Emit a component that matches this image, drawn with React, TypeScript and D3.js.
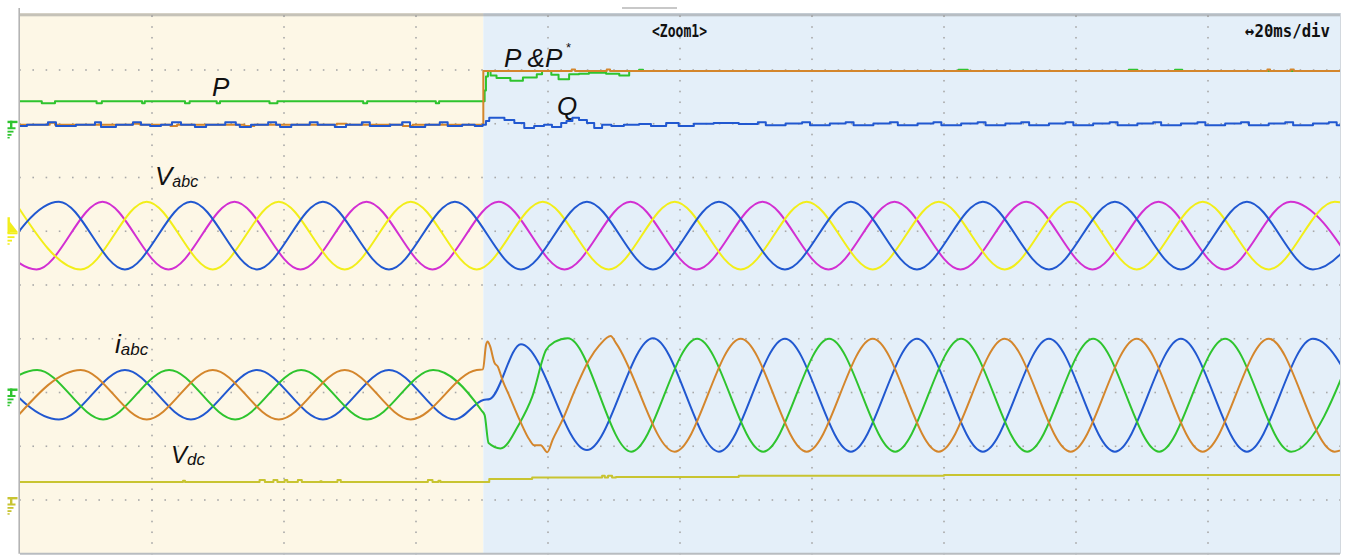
import React from "react";
import * as d3 from "d3";

type Pt = [number, number];

// scope settings: 20 ms/div over 10 div, 10 vertical div, values in div
const timeSpan = [0, 200];
const divSpan = [-5, 5];
const stepTime = 70.2;

// channel ground levels (div from centre)
const pqGround = 3;
const vabcGround = 1;
const iabcGround = -2;
const vdcGround = -4;

// grid voltage, extrema [ms, div]
const vaBlue: Pt[] = [[-4.1,-0.71],[5.9,0.55],[15.9,-0.71],[25.9,0.55],[35.9,-0.71],[45.9,0.55],[55.9,-0.71],[65.9,0.55],[75.9,-0.71],[85.9,0.55],[95.9,-0.71],[105.9,0.55],[115.9,-0.71],[125.9,0.55],[135.9,-0.71],[145.9,0.55],[155.9,-0.71],[165.9,0.55],[175.9,-0.71],[185.9,0.55],[195.9,-0.71],[205.9,0.55]];
const vaYellow: Pt[] = [[-0.8,0.55],[9.2,-0.71],[19.2,0.55],[29.2,-0.71],[39.2,0.55],[49.2,-0.71],[59.2,0.55],[69.2,-0.71],[79.2,0.55],[89.2,-0.71],[99.2,0.55],[109.2,-0.71],[119.2,0.55],[129.2,-0.71],[139.2,0.55],[149.2,-0.71],[159.2,0.55],[169.2,-0.71],[179.2,0.55],[189.2,-0.71],[199.2,0.55],[209.2,-0.71]];
const vaMagenta: Pt[] = [[-7.5,0.55],[2.5,-0.71],[12.5,0.55],[22.5,-0.71],[32.5,0.55],[42.5,-0.71],[52.5,0.55],[62.5,-0.71],[72.5,0.55],[82.5,-0.71],[92.5,0.55],[102.5,-0.71],[112.5,0.55],[122.5,-0.71],[132.5,0.55],[142.5,-0.71],[152.5,0.55],[162.5,-0.71],[172.5,0.55],[182.5,-0.71],[192.5,0.55],[202.5,-0.71]];

// phase currents
const iBlue: Pt[] = [[-4.1,0.42],[5.9,-0.5],[15.9,0.42],[25.9,-0.5],[35.9,0.42],[45.9,-0.5],[55.9,0.42],[65.9,-0.5],[70.2,-0.14],[71.2,-0.12],[75.9,0.9],[85.9,-1.07],[95.9,1.01],[105.9,-1.1],[115.9,1.0],[125.9,-1.1],[135.9,1.0],[145.9,-1.1],[155.9,1.0],[165.9,-1.1],[175.9,1.0],[185.9,-1.1],[195.9,1.0],[205.9,-1.1]];
const iGreen: Pt[] = [[-7.4,-0.5],[2.6,0.42],[12.6,-0.5],[22.6,0.42],[32.6,-0.5],[42.6,0.42],[52.6,-0.5],[62.6,0.42],[69.9,-0.33],[70.4,-0.42],[71.0,-0.94],[72.8,-1.04],[75.7,-0.57],[77.6,-0.08],[79.7,0.79],[81.0,0.94],[83.0,1.01],[92.6,-1.1],[102.6,1.0],[112.6,-1.1],[122.6,1.0],[132.6,-1.1],[142.6,1.0],[152.6,-1.1],[162.6,1.0],[172.6,-1.1],[182.6,1.0],[192.6,-1.1],[202.6,1.0]];
const iOrange: Pt[] = [[-0.8,-0.5],[9.2,0.42],[19.2,-0.5],[29.2,0.42],[39.2,-0.5],[49.2,0.42],[59.2,-0.5],[69.2,0.42],[70.15,0.43],[70.6,0.88],[70.85,0.95],[71.2,0.87],[71.9,0.55],[72.4,0.48],[73.1,0.23],[74.2,-0.08],[75.7,-0.51],[77.2,-0.88],[77.9,-0.98],[78.9,-0.98],[79.9,-1.11],[80.7,-0.88],[82.2,-0.51],[84.3,0.11],[86.2,0.6],[87.8,0.88],[89.5,1.05],[90.3,0.92],[99.2,-1.1],[109.2,1.0],[119.2,-1.1],[129.2,1.0],[139.2,-1.1],[149.2,1.0],[159.2,-1.1],[169.2,1.0],[179.2,-1.1],[189.2,1.0],[199.2,-1.1],[209.2,1.0]];

// active power, reference and reactive power (stepped samples)
const pMeas: Pt[] = [[0,0.42],[3.3,0.38],[5.3,0.42],[11.6,0.38],[12.4,0.42],[18.5,0.38],[18.9,0.42],[25.0,0.38],[25.7,0.42],[29.8,0.38],[30.3,0.42],[37.8,0.38],[39.0,0.42],[52.0,0.38],[52.6,0.42],[63.0,0.38],[63.5,0.42],[70.4,0.62],[70.6,0.88],[70.9,0.98],[71.3,0.9],[72.2,0.85],[74.3,0.8],[76.2,0.86],[78.3,0.92],[79.1,0.98],[80.5,0.91],[81.6,0.83],[83.2,0.92],[84.7,0.93],[86.2,0.95],[88.8,0.93],[90.8,0.9],[92.3,0.98],[93.8,1.005],[94.4,0.98],[142.2,1.005],[143.6,0.98],[168.0,1.005],[169.3,0.98],[175.0,1.005],[176.1,0.98],[200,0.98]];
const pRef: Pt[] = [[0,-0.02],[4.5,0.02],[5.3,-0.02],[17.0,0.0],[18.2,-0.02],[22.8,-0.04],[23.8,-0.02],[34.0,-0.04],[35.5,-0.02],[48,0.0],[49.5,-0.02],[58,-0.04],[59.5,-0.02],[70.2,0.98],[83.6,1.01],[84.1,0.98],[88.9,1.01],[89.4,0.98],[189.0,1.01],[189.4,0.98],[192.5,1.01],[193.0,0.98],[200,0.98]];
const qMeas: Pt[] = [[0,-0.04],[1.06,-0.02],[4.24,0.03],[5.45,-0.04],[8.48,-0.02],[11.36,0.03],[12.27,-0.06],[14.54,-0.02],[17.12,0.03],[18.33,-0.02],[19.7,-0.04],[21.36,-0.02],[23.03,0.03],[24.39,-0.02],[26.5,-0.06],[28.2,-0.02],[31.1,0.03],[32.7,-0.02],[33.3,-0.06],[35.0,-0.02],[37.6,0.03],[38.8,-0.02],[39.4,-0.06],[41.1,-0.02],[43.9,0.03],[45.1,-0.02],[47.7,-0.06],[49.4,-0.02],[51.8,0.03],[53.0,-0.04],[56.1,-0.02],[57.9,0.03],[59.1,-0.06],[61.4,-0.02],[63.6,0.03],[64.8,-0.04],[67.0,-0.02],[68.9,-0.04],
  [70.1,-0.02],[70.6,0.05],[71.1,0.11],[72.6,0.11],[73.4,0.07],[74.9,0.015],[76.4,-0.08],[77.9,-0.04],[79.4,-0.02],[80.6,-0.06],[82.0,0.015],[82.8,0.05],[83.7,0.11],[84.7,0.07],[85.9,0.015],[87.0,-0.08],[88.2,-0.02],[89.6,-0.04],[91.5,-0.02],[93.8,-0.005],[95.6,-0.04],[97.9,0.015],[99.8,-0.04],[102.1,0.0],[105.1,0.015],[108.9,-0.005],
  [111.8,0.03],[113.0,-0.03],[116.0,0.005],[118.5,0.03],[119.7,-0.03],[122.7,0.005],[125.1,0.03],[126.3,-0.03],[129.3,0.005],[131.8,0.03],[133.0,-0.03],[136.0,0.005],[138.4,0.03],[139.6,-0.03],[142.6,0.005],[145.1,0.03],[146.3,-0.03],[149.3,0.005],[151.7,0.03],[152.9,-0.03],[155.9,0.005],[158.4,0.03],[159.6,-0.03],[162.6,0.005],[165.1,0.03],[166.3,-0.03],[169.3,0.005],[171.7,0.03],[172.9,-0.03],[175.9,0.005],[178.4,0.03],[179.6,-0.03],[182.6,0.005],[185.0,0.03],[186.2,-0.03],[189.2,0.005],[191.7,0.03],[192.9,-0.03],[195.9,0.005],[198.3,0.03],[199.5,-0.03],[200,-0.03]];

// dc-link voltage
const vdc: Pt[] = [[0,0.335],[24.7,0.36],[25.0,0.335],[36.3,0.37],[37.1,0.335],[38.4,0.37],[39.0,0.335],[40.1,0.37],[40.5,0.335],[42.1,0.37],[42.7,0.335],[45.5,0.35],[45.7,0.335],[48.1,0.37],[48.6,0.335],[61.8,0.37],[62.5,0.335],[63.4,0.36],[63.7,0.335],[71.1,0.39],[77.6,0.42],[88.2,0.45],[88.6,0.42],[89.1,0.45],[89.7,0.42],[90.3,0.43],[108.9,0.45],[140,0.465],[200,0.465]];

const W = 1348, H = 556;
const left = 20, right = 1340, top = 16.25, bottom = 553.75;

const x = d3.scaleLinear().domain(timeSpan).range([left, right]);
const y = d3.scaleLinear().domain(divSpan).range([bottom, top]);

const smooth = (g: number) =>
  d3.line<Pt>().x(d => x(d[0])).y(d => y(d[1] + g)).curve(d3.curveMonotoneX);
const stepped = (g: number) =>
  d3.line<Pt>().x(d => x(d[0])).y(d => y(d[1] + g)).curve(d3.curveStepAfter);

const font = "'Liberation Sans', Arial, sans-serif";

function Ground({ gy, color }: { gy: number; color: string }) {
  return (
    <g fill={color}>
      <rect x={7.5} y={gy - 3} width={10} height={2.4} />
      <rect x={10} y={gy - 3} width={2.4} height={7.5} />
      <rect x={7.5} y={gy + 3.5} width={8} height={2} />
      <rect x={7.5} y={gy + 7} width={6} height={1.8} />
      <rect x={7.5} y={gy + 10.2} width={4} height={1.8} />
      <rect x={7.5} y={gy + 13.2} width={2.2} height={1.5} />
    </g>
  );
}

function GroundArrow({ gy, color }: { gy: number; color: string }) {
  return (
    <g fill={color}>
      <rect x={7.5} y={gy - 14} width={2.4} height={16} />
      <path d={`M9.5,${gy - 10}L18,${gy + 1}L9.5,${gy + 1}Z`} />
      <rect x={7.5} y={gy + 1} width={10} height={2} />
      <rect x={7.5} y={gy + 5} width={7} height={1.8} />
      <rect x={7.5} y={gy + 8.5} width={4.5} height={1.8} />
      <rect x={7.5} y={gy + 12} width={2.2} height={1.5} />
    </g>
  );
}

export default function App() {
  const cols = d3.range(1, 10).map(k => k * 20);
  const rows = d3.range(-4, 5);
  const hDots = d3.range(0, 201, 2);
  const vDots = d3.range(-5, 5.01, 0.2);

  return (
    <svg width={W} height={H} style={{ position: "absolute", left: 0, top: 0, display: "block" }}>
      <rect width={W} height={H} fill="#fff" />
      <rect x={left} y={13} width={x(stepTime) - left} height={bottom - 13} fill="#fdf7e6" />
      <rect x={x(stepTime)} y={13} width={right - x(stepTime)} height={bottom - 13} fill="#e4eff9" />

      {/* dotted graticule */}
      <g fill="#a9a9a9">
        {rows.map(r =>
          hDots.map(t => (
            <rect key={`h${r}-${t}`} x={x(t) - 0.8} y={y(r) - 0.8} width={1.6} height={1.6} />
          ))
        )}
        {cols.map(c =>
          vDots.map(v => (
            <rect key={`v${c}-${v}`} x={x(c) - 0.8} y={y(v) - 0.8} width={1.6} height={1.6} />
          ))
        )}
      </g>

      <rect x={left} y={13.3} width={right - left} height={3} fill="#808080" opacity={0.45} />
      <rect x={622} y={7} width={55} height={2} fill="#c8c8c8" />
      <line x1={19.2} x2={19.2} y1={8} y2={bottom} stroke="#b4b4b4" strokeWidth={1.6} />
      <line x1={left} x2={right} y1={bottom} y2={bottom} stroke="#b8bcc0" strokeWidth={2} />
      <line x1={right + 0.5} x2={right + 0.5} y1={13} y2={bottom} stroke="#d2d8de" strokeWidth={1} />

      <defs>
        <clipPath id="plotClip">
          <rect x={left} y={top} width={right - left} height={bottom - top} />
        </clipPath>
      </defs>

      <g clipPath="url(#plotClip)" fill="none" strokeWidth={2} strokeLinejoin="round">
        <path d={stepped(pqGround)(pMeas) ?? ""} stroke="#2ec42e" />
        <path d={stepped(pqGround)(pRef) ?? ""} stroke="#d4862c" />
        <path d={stepped(pqGround)(qMeas) ?? ""} stroke="#2158d0" />

        <path d={smooth(vabcGround)(vaMagenta) ?? ""} stroke="#d22fd2" />
        <path d={smooth(vabcGround)(vaYellow) ?? ""} stroke="#f2ee1a" />
        <path d={smooth(vabcGround)(vaBlue) ?? ""} stroke="#2158d0" />

        <path d={smooth(iabcGround)(iBlue) ?? ""} stroke="#2158d0" />
        <path d={smooth(iabcGround)(iGreen) ?? ""} stroke="#2ec42e" />
        <path d={smooth(iabcGround)(iOrange) ?? ""} stroke="#d4862c" />

        <path d={stepped(vdcGround)(vdc) ?? ""} stroke="#c8c431" />
      </g>

      <Ground gy={y(pqGround)} color="#2ec42e" />
      <GroundArrow gy={y(vabcGround)} color="#f2ee1a" />
      <Ground gy={y(iabcGround) - 1} color="#2ec42e" />
      <Ground gy={y(vdcGround)} color="#c8c431" />

      <g fontFamily={font} fill="#111" fontStyle="italic">
        <text x={212} y={95.5} fontSize={26}>P</text>
        <text x={504} y={66.5} fontSize={26}>P &amp;P</text>
        <text x={566} y={52} fontSize={13} fontStyle="normal">*</text>
        <text x={557} y={114.5} fontSize={26}>Q</text>
        <text x={155} y={185} fontSize={26}>V<tspan fontSize={16} dy={1.5}>abc</tspan></text>
        <text x={115} y={353} fontSize={26}>i<tspan fontSize={17} dy={2}>abc</tspan></text>
        <text x={171} y={462.5} fontSize={24}>V<tspan fontSize={17} dy={2.5}>dc</tspan></text>
      </g>

      <g fontFamily="'DejaVu Sans Mono', monospace" fontWeight="bold" fill="#111">
        <text x={652} y={36.5} fontSize={17} textLength={55} lengthAdjust="spacingAndGlyphs">{"<Zoom1>"}</text>
        <text x={1245} y={36.5} fontSize={18} textLength={85} lengthAdjust="spacingAndGlyphs">{"↔20ms/div"}</text>
      </g>
    </svg>
  );
}
